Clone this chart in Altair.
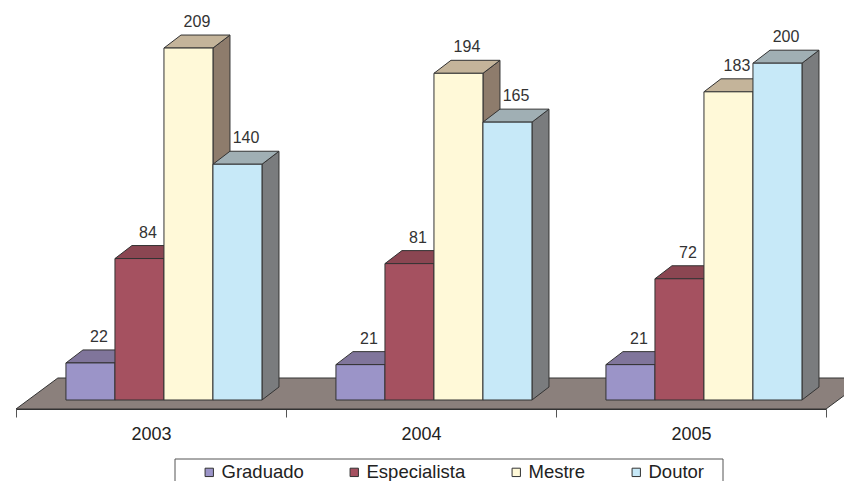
import json
import altair as alt
import pandas as pd

# ---- data ----
years = ["2003", "2004", "2005"]
series = ["Graduado", "Especialista", "Mestre", "Doutor"]
graduado = [22, 21, 21]
especialista = [84, 81, 72]
mestre = [209, 194, 183]
doutor = [140, 165, 200]

# ---- styles ----
FONT = "Liberation Sans"
front_colors = ["#9B94C8", "#A55160", "#FFF9D8", "#C7E9F8"]
top_colors = ["#80759B", "#8B4652", "#C4B49A", "#A0AFB4"]
side_colors = ["#6E6488", "#733A45", "#8E7C6C", "#7A7C7E"]
floor_color = "#8B807C"
edge = "#333333"

# ---- layout (in data units of the x / y scales) ----
W, H = 810, 399
Y_MIN, Y_MAX = -5.344, 231.59
BAR_START, BAR_W = 0.185, 0.1815
DEPTH_X, DEPTH_Y = 0.063, 7.72
FLOOR_FRONT, FLOOR_BACK, FLOOR_DX = -5.344, 13.06, 0.155

values_by_series = [graduado, especialista, mestre, doutor]

bars, sides, tops = [], [], []
for yi, yr in enumerate(years):
    for si, s in enumerate(series):
        v = values_by_series[si][yi]
        xl = yi + BAR_START + si * BAR_W
        xr = xl + BAR_W
        bid = f"{yr}-{s}"
        bars.append(dict(year=yr, series=s, bar=bid, value=v, base=0,
                         xl=xl, xr=xr,
                         lx=(xl + xr) / 2 + DEPTH_X / 2, ly=v + DEPTH_Y))
        sides.append(dict(series=s, bar=bid, x=xr, y=v, y2=0))
        sides.append(dict(series=s, bar=bid, x=xr + DEPTH_X, y=v + DEPTH_Y, y2=DEPTH_Y))
        tops.append(dict(series=s, bar=bid, y=v, x=xl, x2=xr))
        tops.append(dict(series=s, bar=bid, y=v + DEPTH_Y, x=xl + DEPTH_X, x2=xr + DEPTH_X))

bars_df = pd.DataFrame(bars)
sides_df = pd.DataFrame(sides)
tops_df = pd.DataFrame(tops)
floor_df = pd.DataFrame([
    dict(y=FLOOR_FRONT, x=0.0, x2=float(len(years))),
    dict(y=FLOOR_BACK, x=FLOOR_DX, x2=len(years) + FLOOR_DX),
])

xscale = alt.Scale(domain=[0, len(years)], nice=False, zero=False)
yscale = alt.Scale(domain=[Y_MIN, Y_MAX], nice=False, zero=False)

tick_vals = [i * 0.5 for i in range(2 * len(years) + 1)]
label_expr = f"(datum.value % 1) == 0.5 ? {json.dumps(years)}[floor(datum.value)] : ''"
xaxis = alt.Axis(
    values=tick_vals, labelExpr=label_expr, title=None, grid=False,
    domainColor=edge, domainWidth=1, tickColor="#555555", tickSize=8, tickWidth=1,
    tickOpacity={"condition": {"test": "datum.value % 1 === 0", "value": 1}, "value": 0},
    labelFontSize=18, labelColor="#222222", labelFont=FONT, labelPadding=8,
    labelOverlap=False, labelFlush=False,
)


def X(field):
    return alt.X(field, type="quantitative", scale=xscale, axis=xaxis, stack=None)


def Y(field):
    return alt.Y(field, type="quantitative", scale=yscale, axis=None, stack=None)


floor = alt.Chart(floor_df).mark_area(
    orient="horizontal", fill=floor_color, stroke=edge, strokeWidth=1, opacity=1
).encode(x=X("x"), x2="x2:Q", y=Y("y"))

side_layer = alt.Chart(sides_df).mark_area(
    orient="vertical", stroke=edge, strokeWidth=1, opacity=1
).encode(
    x=X("x"), y=Y("y"), y2="y2:Q",
    color=alt.Color("series:N", scale=alt.Scale(domain=series, range=side_colors), legend=None),
    detail="bar:N",
)

top_layer = alt.Chart(tops_df).mark_area(
    orient="horizontal", stroke=edge, strokeWidth=1, opacity=1
).encode(
    x=X("x"), x2="x2:Q", y=Y("y"),
    color=alt.Color("series:N", scale=alt.Scale(domain=series, range=top_colors), legend=None),
    detail="bar:N",
)

front_layer = alt.Chart(bars_df).mark_bar(stroke=edge, strokeWidth=1, opacity=1).encode(
    x=X("xl"), x2="xr:Q", y=Y("value"), y2="base:Q",
    color=alt.Color(
        "series:N", sort=series,
        scale=alt.Scale(domain=series, range=front_colors),
        legend=alt.Legend(
            orient="none", legendX=184, legendY=453, direction="horizontal", title=None,
            symbolType="square", symbolSize=70, symbolStrokeColor=edge, symbolStrokeWidth=1,
            symbolOpacity=1,
            labelFontSize=18.5, labelFont=FONT, labelColor="#222222", labelOffset=3,
            columnPadding=41, padding=0,
        ),
    ),
)

labels = alt.Chart(bars_df).mark_text(
    baseline="alphabetic", align="center", dy=-8, fontSize=16, font=FONT, color="#333333"
).encode(x=X("lx"), y=Y("ly"), text="value:Q")

legend_box = alt.Chart(pd.DataFrame([{"k": 0}])).mark_rect(
    fill="transparent", stroke="#555555", strokeWidth=1
).encode(x=alt.value(159), x2=alt.value(707), y=alt.value(449), y2=alt.value(500))

chart = alt.layer(floor, side_layer, top_layer, front_layer, labels, legend_box).resolve_scale(
    color="independent"
).properties(
    width=W, height=H, autosize="none",
    padding={"left": 8, "top": 2, "right": 18, "bottom": 72},
    background="white",
).configure_view(stroke=None)

chart.save("out.html", embed_options={"renderer": "svg", "actions": False})
